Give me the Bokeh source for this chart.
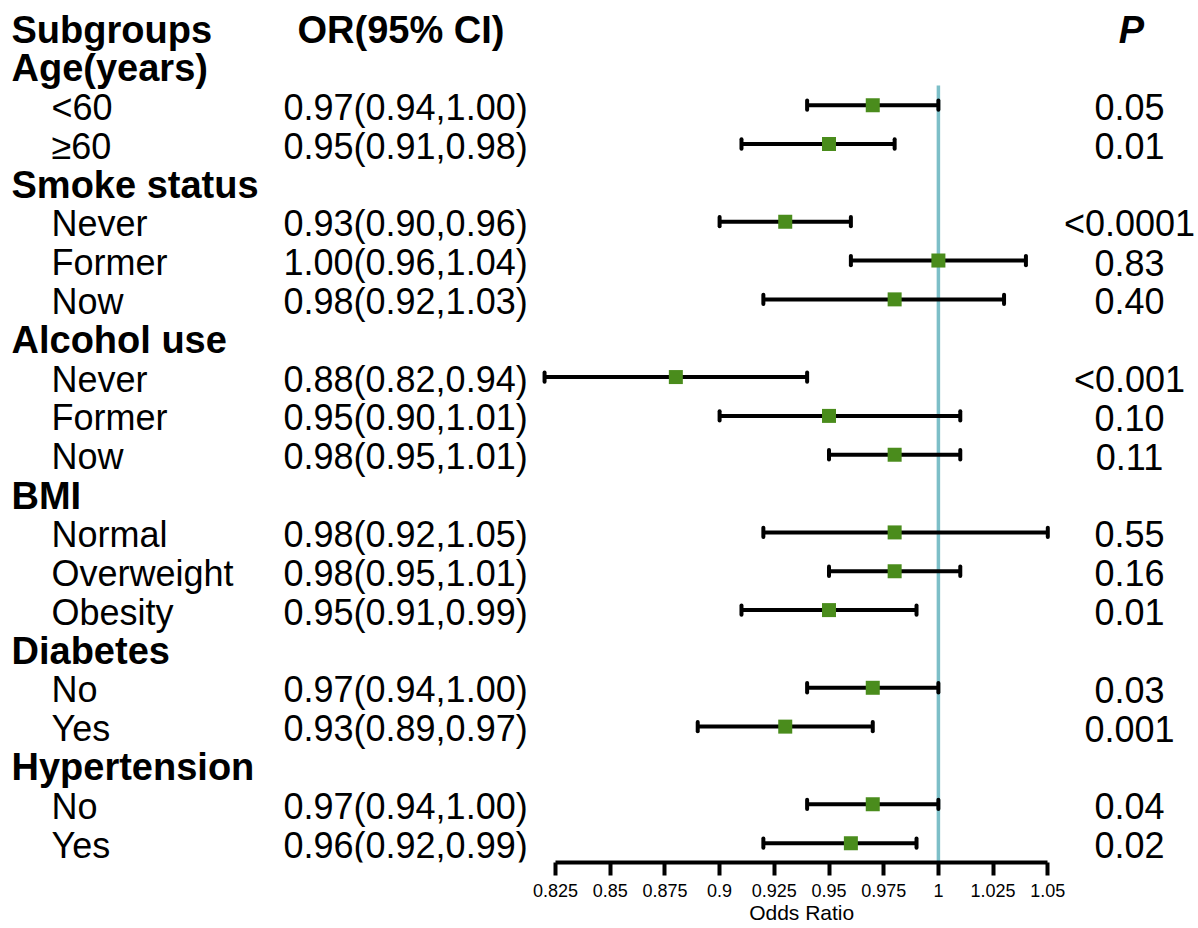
from bokeh.plotting import figure
from bokeh.models import Range1d, LinearAxis, FixedTicker, CustomJSTickFormatter, ColumnDataSource, Title
from bokeh.core.properties import value
from bokeh.embed import file_html
from bokeh.resources import INLINE

# ---------------- data ----------------
groups = ["Age(years)", "Smoke status", "Alcohol use", "BMI", "Diabetes", "Hypertension"]
subgroups = [
    ["<60", "\u226560"],
    ["Never", "Former", "Now"],
    ["Never", "Former", "Now"],
    ["Normal", "Overweight", "Obesity"],
    ["No", "Yes"],
    ["No", "Yes"],
]
or_vals = [0.97, 0.95, 0.93, 1.00, 0.98, 0.88, 0.95, 0.98, 0.98, 0.98, 0.95, 0.97, 0.93, 0.97, 0.96]
ci_low = [0.94, 0.91, 0.90, 0.96, 0.92, 0.82, 0.90, 0.95, 0.92, 0.95, 0.91, 0.94, 0.89, 0.94, 0.92]
ci_high = [1.00, 0.98, 0.96, 1.04, 1.03, 0.94, 1.01, 1.01, 1.05, 1.01, 0.99, 1.00, 0.97, 1.00, 0.99]
p_labels = ["0.05", "0.01", "<0.0001", "0.83", "0.40", "<0.001", "0.10", "0.11",
            "0.55", "0.16", "0.01", "0.03", "0.001", "0.04", "0.02"]
tick_values = [0.825, 0.85, 0.875, 0.9, 0.925, 0.95, 0.975, 1, 1.025, 1.05]
ref_value = 1.0

# ---------------- layout ----------------
W, H = 1198, 928
PX_PER_UNIT = 2188.0
X_START = 0.825 - 555.0 / PX_PER_UNIT
X_END = X_START + W / PX_PER_UNIT
ROW_PX = 38.84
ROW0_PX = 27.0           # image y of header row centre
AXIS_PX = 862.0          # image y of axis line
TXT_DY = 2.0 / ROW_PX    # text sits a little below the marker row


def tx(px):
    """image pixel x -> data x"""
    return X_START + px / PX_PER_UNIT


def ty(px):
    """image pixel y -> data y (row units)"""
    return (px - ROW0_PX) / ROW_PX


y_start = ty(AXIS_PX)
y_end = ty(0)

# build rows
head_rows, head_txt = [], []
sub_rows, sub_txt = [], []
row = 1
for g, subs in zip(groups, subgroups):
    head_rows.append(row)
    head_txt.append(g)
    row += 1
    for s in subs:
        sub_rows.append(row)
        sub_txt.append(s)
        row += 1

or_txt = ["%.2f(%.2f,%.2f)" % (o, l, h) for o, l, h in zip(or_vals, ci_low, ci_high)]

src = ColumnDataSource(dict(y=sub_rows, ty=[r + TXT_DY for r in sub_rows], sub=sub_txt,
                            orv=or_vals, lo=ci_low, hi=ci_high,
                            ortxt=or_txt, ptxt=p_labels,
                            cap0=[r - 0.12 for r in sub_rows], cap1=[r + 0.12 for r in sub_rows]))

p = figure(width=W, height=H, output_backend="svg", toolbar_location=None,
           x_range=Range1d(X_START, X_END), y_range=Range1d(y_start, y_end),
           x_axis_location=None, y_axis_location=None,
           min_border_left=0, min_border_right=0, min_border_top=0,
           min_border_bottom=int(H - AXIS_PX))
p.outline_line_color = None
p.grid.visible = False
p.background_fill_color = "white"
p.border_fill_color = "white"

FONT = value("Liberation Sans")
TXT_SIZE = "36px"
BOLD_SIZE = "38px"

# reference line
p.segment(x0=[ref_value], x1=[ref_value], y0=[ty(85)], y1=[y_start], line_color="#7dbfc8", line_width=3.5)

# CI lines
p.segment(x0="lo", x1="hi", y0="y", y1="y", source=src, line_color="black", line_width=4)
p.segment(x0="lo", x1="lo", y0="cap0", y1="cap1", source=src, line_color="black", line_width=4, line_cap="round")
p.segment(x0="hi", x1="hi", y0="cap0", y1="cap1", source=src, line_color="black", line_width=4, line_cap="round")
# points
p.scatter(x="orv", y="y", source=src, marker="square", size=14, fill_color="#4a8c1c", line_color=None)

# header
p.text(x=[tx(11)], y=[TXT_DY], text=["Subgroups"], text_font=FONT, text_font_size=BOLD_SIZE,
       text_font_style="bold", text_baseline="middle", text_align="left", text_color="black")
p.text(x=[tx(297)], y=[TXT_DY], text=["OR(95% CI)"], text_font=FONT, text_font_size=BOLD_SIZE,
       text_font_style="bold", text_baseline="middle", text_align="left", text_color="black")
p.text(x=[tx(1131)], y=[TXT_DY], text=["P"], text_font=FONT, text_font_size=BOLD_SIZE,
       text_font_style="bold italic", text_baseline="middle", text_align="center", text_color="black")

# group headings
p.text(x=[tx(11)] * len(head_rows), y=[r + TXT_DY for r in head_rows], text=head_txt, text_font=FONT,
       text_font_size=BOLD_SIZE, text_font_style="bold", text_baseline="middle",
       text_align="left", text_color="black")
# subgroup labels, OR text, P text
p.text(x=tx(51), y="ty", text="sub", source=src, text_font=FONT, text_font_size=TXT_SIZE,
       text_baseline="middle", text_align="left", text_color="black")
p.text(x=tx(283), y="ty", text="ortxt", source=src, text_font=FONT, text_font_size=TXT_SIZE,
       text_baseline="middle", text_align="left", text_color="black")
p.text(x=tx(1129), y="ty", text="ptxt", source=src, text_font=FONT, text_font_size=TXT_SIZE,
       text_baseline="middle", text_align="center", text_color="black")

# axis
ax = LinearAxis(bounds=(tick_values[0], tick_values[-1]),
                ticker=FixedTicker(ticks=tick_values, minor_ticks=[]),
                formatter=CustomJSTickFormatter(code="return String(Number(tick.toFixed(3)));"))
ax.axis_line_width = 4
ax.axis_line_color = "black"
ax.major_tick_line_width = 4
ax.major_tick_line_color = "black"
ax.major_tick_in = 0
ax.major_tick_out = 13
ax.minor_tick_line_color = None
ax.major_label_standoff = 8
ax.major_label_text_font = "Liberation Sans"
ax.major_label_text_font_size = "18px"
ax.major_label_text_color = "black"
p.add_layout(ax, "below")

# axis title, centred under the bounded axis (left-aligned title pushed by an offset)
axis_mid_px = 555.0 + (tick_values[-1] - tick_values[0]) / 2 * PX_PER_UNIT
title_half_w = 52.5
xtitle = Title(text="Odds Ratio", align="left", offset=axis_mid_px - title_half_w,
               text_font="Liberation Sans", text_font_size="21px", text_font_style="normal",
               text_color="black", standoff=0, vertical_align="middle")
p.add_layout(xtitle, "below")

open("out.html", "w").write(file_html(p, INLINE))
